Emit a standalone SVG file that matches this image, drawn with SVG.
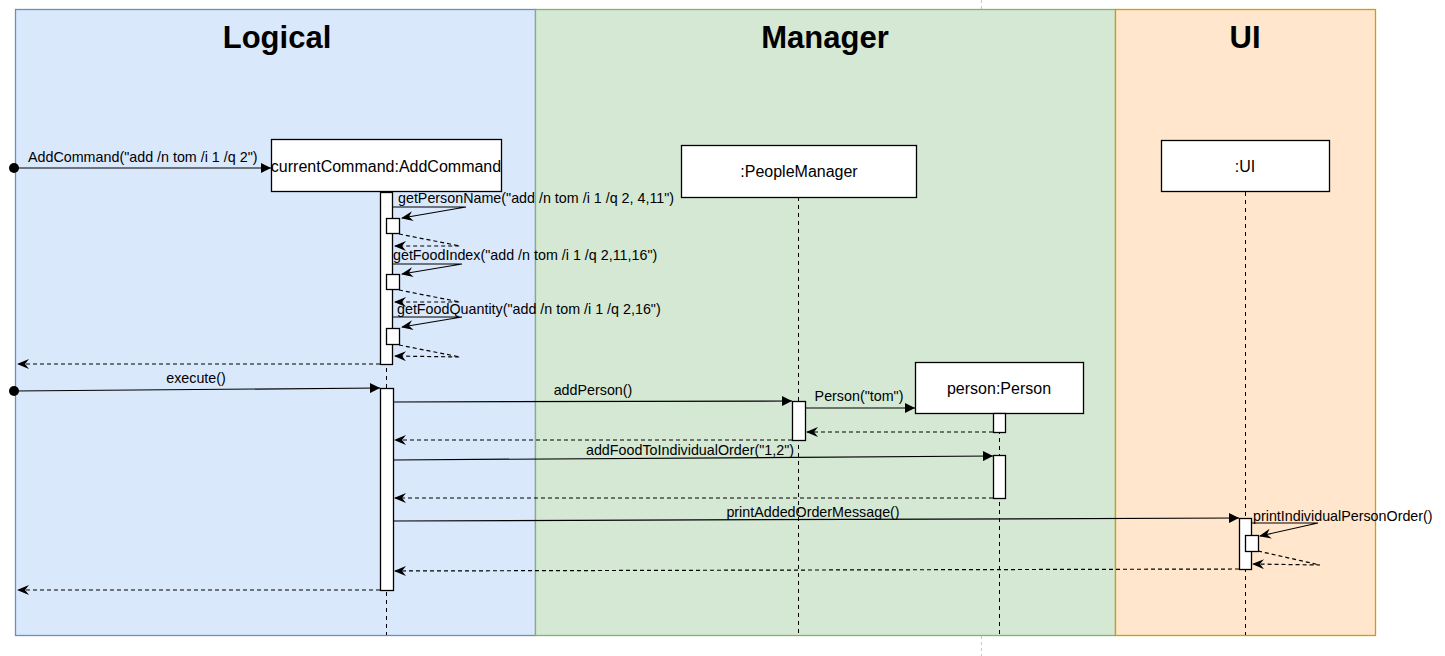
<svg xmlns="http://www.w3.org/2000/svg" width="1445" height="656" viewBox="0 0 1445 656">
<style>
.title{font-family:"Liberation Sans",Arial,sans-serif;font-weight:bold;font-size:31px;text-anchor:middle;fill:#000}
.node{font-family:"Liberation Sans",Arial,sans-serif;font-size:16px;text-anchor:middle;fill:#000}
.lbl{font-family:"Liberation Sans",Arial,sans-serif;font-size:14.3px;fill:#000}
.box{fill:#fff;stroke:#000;stroke-width:1.3}
.act{fill:#fff;stroke:#000;stroke-width:1.3}
.life{stroke:#000;stroke-width:1;stroke-dasharray:4 4;fill:none}
.msg{stroke:#000;stroke-width:1.2;fill:none;marker-end:url(#block)}
.call{stroke:#000;stroke-width:1.2;fill:none;marker-end:url(#openEnd)}
.ret{stroke:#000;stroke-width:1.2;fill:none;stroke-dasharray:4 3;marker-end:url(#openEnd)}
</style>
<defs>
<marker id="block" viewBox="0 0 10 10" refX="10" refY="5" markerWidth="11" markerHeight="10" markerUnits="userSpaceOnUse" orient="auto">
<path d="M0,0 L10,5 L0,10 z" fill="#000"/>
</marker>
<marker id="openEnd" viewBox="0 0 12 10" refX="11" refY="5" markerWidth="12" markerHeight="10" markerUnits="userSpaceOnUse" orient="auto">
<path d="M0,0 L12,5 L0,10 L4,5 z" fill="#000"/>
</marker>
</defs>
<rect width="1445" height="656" fill="#fff"/>
<g id="pagebreak" stroke="#c8c8c8" stroke-width="1" stroke-dasharray="3 3">
<line x1="981.5" y1="0" x2="981.5" y2="9"/>
<line x1="981.5" y1="636" x2="981.5" y2="656"/>
</g>
<g id="logical-lane">
<rect x="15.5" y="9.5" width="520" height="626" fill="#dae8fc" stroke="#6c8ebf" stroke-width="1.3"/>
<text class="title" x="277" y="48">Logical</text>
</g>
<g id="manager-lane">
<rect x="535.5" y="9.5" width="580" height="626" fill="#d5e8d4" stroke="#82b366" stroke-width="1.3"/>
<text class="title" x="825" y="48">Manager</text>
</g>
<g id="ui-lane">
<rect x="1115.5" y="9.5" width="260" height="626" fill="#ffe6cc" stroke="#d79b00" stroke-width="1.3"/>
<text class="title" x="1245" y="48">UI</text>
</g>
<g id="lifelines">
<line class="life" x1="386.5" y1="192" x2="386.5" y2="635"/>
<line class="life" x1="798.5" y1="197" x2="798.5" y2="635"/>
<line class="life" x1="999.5" y1="414" x2="999.5" y2="635"/>
<line class="life" x1="1245.5" y1="192" x2="1245.5" y2="635"/>
</g>
<g id="currentCommand">
<rect class="box" x="271.5" y="139.5" width="230" height="52"/>
<text class="node" x="386" y="172">currentCommand:AddCommand</text>
</g>
<g id="peopleManager">
<rect class="box" x="681.5" y="145.5" width="235" height="52"/>
<text class="node" x="799" y="177">:PeopleManager</text>
</g>
<g id="person">
<rect class="box" x="915.5" y="362.5" width="168" height="51"/>
<text class="node" x="999" y="394">person:Person</text>
</g>
<g id="ui">
<rect class="box" x="1161.5" y="140.5" width="168" height="51"/>
<text class="node" x="1245" y="172">:UI</text>
</g>
<g id="activations">
<rect class="act" x="380.5" y="192.5" width="12" height="172"/>
<rect class="act" x="386.5" y="218.5" width="13" height="15"/>
<rect class="act" x="386.5" y="274.5" width="13" height="15"/>
<rect class="act" x="386.5" y="328.5" width="13" height="16"/>
<rect class="act" x="380.5" y="388.5" width="13" height="202"/>
<rect class="act" x="792.5" y="401.5" width="13" height="39"/>
<rect class="act" x="993.5" y="413.5" width="12" height="19"/>
<rect class="act" x="993.5" y="455.5" width="12" height="43"/>
<rect class="act" x="1239.5" y="518.5" width="12" height="51"/>
<rect class="act" x="1245.5" y="535.5" width="13" height="16"/>
</g>
<g id="connectors">
<circle cx="14" cy="168" r="5" fill="#000"/>
<line class="msg" x1="14" y1="168" x2="271" y2="168"/>
<text class="lbl" x="28" y="162">AddCommand("add /n tom /i 1 /q 2")</text>

<polyline class="call" points="393,207 466,207 402,218"/>
<text class="lbl" x="398" y="203">getPersonName("add /n tom /i 1 /q 2, 4,11")</text>
<polyline class="ret" points="399,234 460,246 395,246"/>

<polyline class="call" points="393,264 462,264 402,274"/>
<text class="lbl" x="393" y="260">getFoodIndex("add /n tom /i 1 /q 2,11,16")</text>
<polyline class="ret" points="399,290 460,302 395,302"/>

<polyline class="call" points="393,317 462,317 402,327"/>
<text class="lbl" x="397" y="314">getFoodQuantity("add /n tom /i 1 /q 2,16")</text>
<polyline class="ret" points="399,345 460,357 395,356"/>

<polyline class="ret" points="380,364 18,364"/>

<circle cx="14" cy="391" r="5" fill="#000"/>
<line class="msg" x1="14" y1="391" x2="380" y2="388"/>
<text class="lbl" x="196" y="383" text-anchor="middle">execute()</text>

<line class="msg" x1="393" y1="402" x2="792" y2="401"/>
<text class="lbl" x="593" y="395" text-anchor="middle">addPerson()</text>

<line class="msg" x1="805" y1="408" x2="915" y2="408"/>
<text class="lbl" x="859" y="401" text-anchor="middle">Person("tom")</text>

<polyline class="ret" points="993,432 807,432"/>
<polyline class="ret" points="792,440 395,440"/>

<line class="msg" x1="393" y1="460" x2="993" y2="456"/>
<text class="lbl" x="690" y="455" text-anchor="middle">addFoodToIndividualOrder("1,2")</text>

<polyline class="ret" points="993,498 395,498"/>

<line class="msg" x1="393" y1="521" x2="1239" y2="518"/>
<text class="lbl" x="813" y="517" text-anchor="middle">printAddedOrderMessage()</text>

<polyline class="call" points="1251,523 1318,523 1260,536"/>
<text class="lbl" x="1253" y="521">printIndividualPersonOrder()</text>
<polyline class="ret" points="1258,551 1320,565 1253,564"/>

<polyline class="ret" points="1239,569 395,571"/>
<polyline class="ret" points="380,590 18,590"/>
</g>
</svg>
